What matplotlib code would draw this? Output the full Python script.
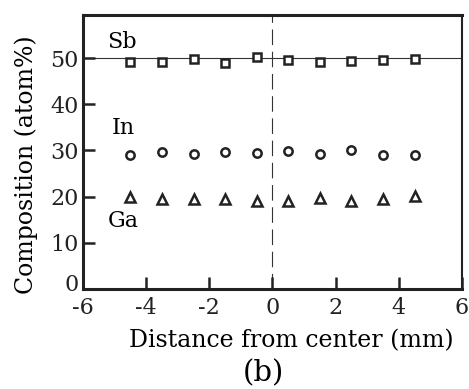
import matplotlib.pyplot as plt
from matplotlib.transforms import ScaledTranslation

plt.rcParams['font.family'] = 'DejaVu Serif'

distance = [-4.5, -3.5, -2.5, -1.5, -0.5, 0.5, 1.5, 2.5, 3.5, 4.5]
sb = [49.2, 49.2, 49.8, 49.0, 50.2, 49.7, 49.2, 49.4, 49.6, 49.8]
in_ = [29.0, 29.7, 29.2, 29.7, 29.5, 29.9, 29.2, 30.1, 29.0, 29.0]
ga = [20.0, 19.6, 19.6, 19.4, 19.0, 19.0, 19.8, 19.0, 19.6, 20.1]

fig = plt.figure(figsize=(4.69, 3.89), dpi=100)
ax = fig.add_axes([0.177, 0.257, 0.808, 0.704])

ax.axhline(50, color='#333333', lw=0.8, zorder=1)
ax.axvline(0, color='#333333', lw=0.8, ls=(0, (14, 6)), zorder=1)

mk = dict(ls='none', mfc='white', mec='#222222', mew=1.8, zorder=3)
ax.plot(distance, sb, marker='s', ms=6, **mk)
ax.plot(distance, in_, marker='o', ms=6, **mk)
ax.plot(distance, ga, marker='^', ms=7, **mk)

ax.text(-5.24, 53.4, 'Sb', fontsize=16, va='center', ha='left')
ax.text(-5.08, 34.9, 'In', fontsize=16, va='center', ha='left')
ax.text(-5.21, 14.7, 'Ga', fontsize=16, va='center', ha='left')

ax.set_xlim(-6, 6)
ax.set_ylim(0, 59.3)
ax.set_xticks([-6, -4, -2, 0, 2, 4, 6])
ax.set_xticklabels(['-6', '-4', '-2', '0', '2', '4', '6'])
ax.set_yticks([0, 10, 20, 30, 40, 50])
ax.tick_params(direction='in', length=8.5, width=1.8, labelsize=16,
               colors='#222222', labelcolor='#222222')
ax.tick_params(axis='x', pad=6)
ax.tick_params(axis='y', pad=3)
for s in ['left', 'bottom', 'top']:
    ax.spines[s].set_linewidth(2.2)
ax.spines['right'].set_linewidth(1.5)
for s in ax.spines.values():
    s.set_color('#222222')

# nudge the "0" label up so it clears the "-6" below it
zero = ax.get_yticklabels()[0]
zero.set_transform(zero.get_transform() + ScaledTranslation(0, 5 / 72, fig.dpi_scale_trans))

ax.set_xlabel('Distance from center (mm)', fontsize=17)
ax.xaxis.set_label_coords(0.549, -0.145)
ax.set_ylabel('Composition (atom%)', fontsize=17)
ax.yaxis.set_label_coords(-0.119, 0.453)
fig.text(0.561, 0.004, '(b)', fontsize=21, ha='center', va='bottom')

fig.savefig('out.png', dpi=100)
